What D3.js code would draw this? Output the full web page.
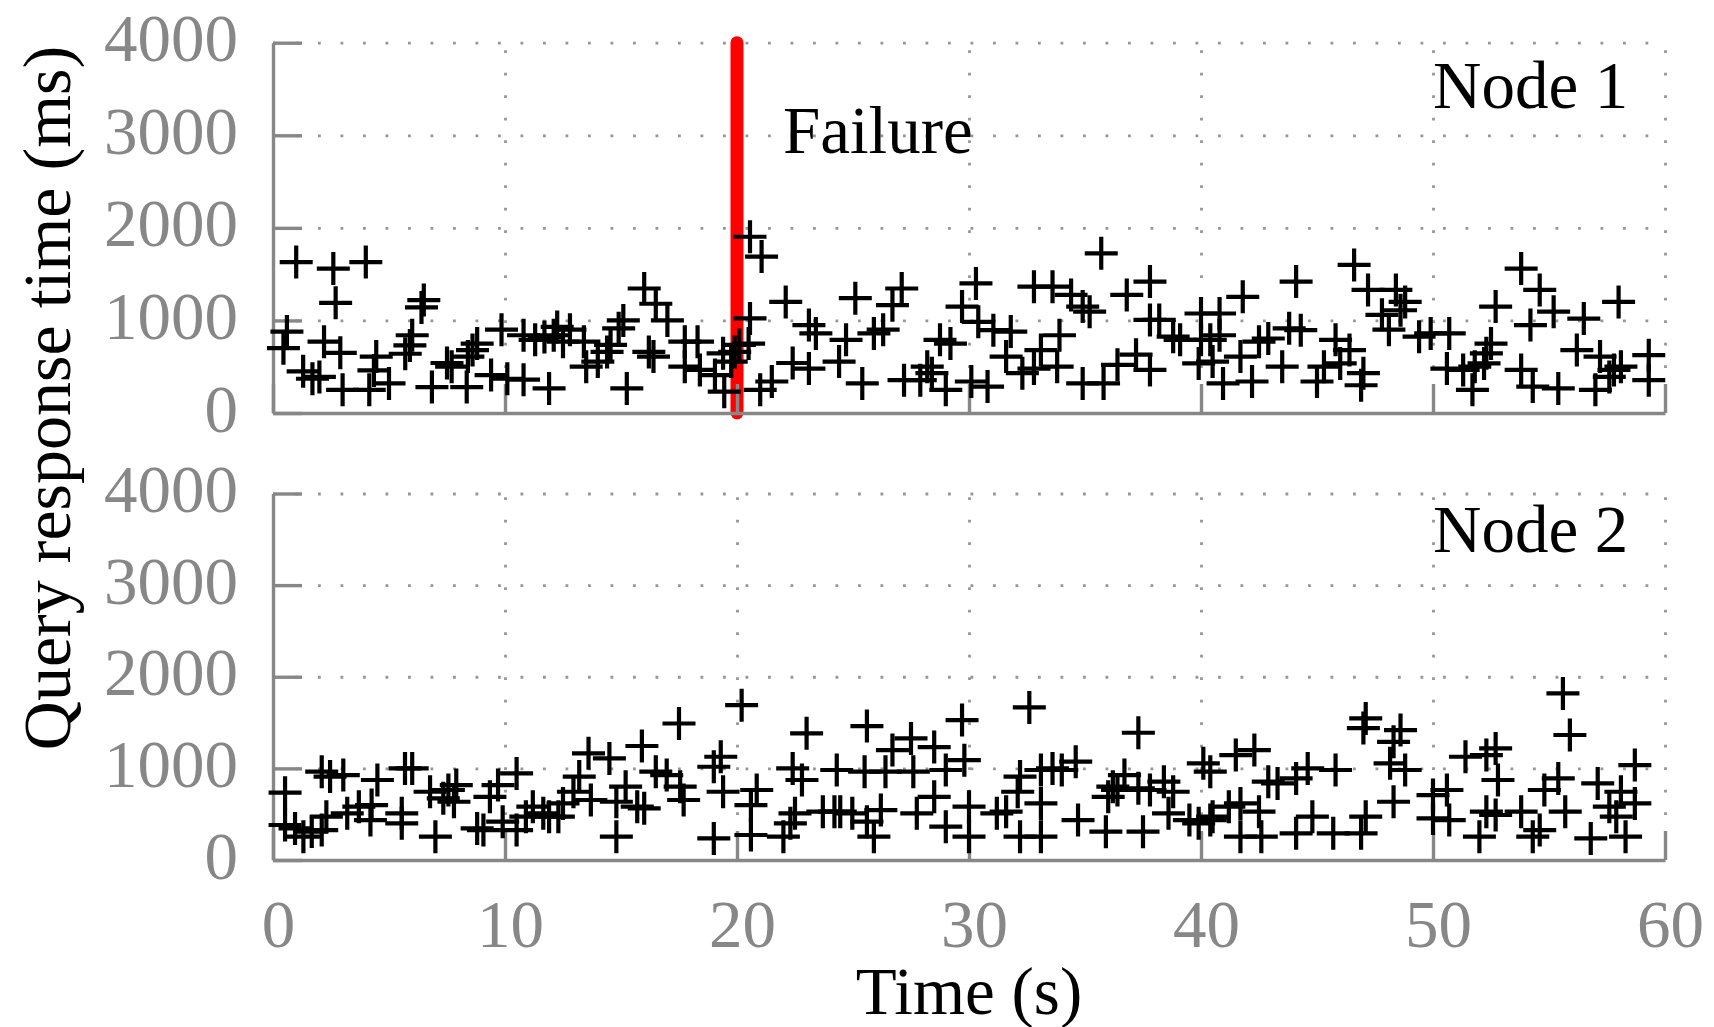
<!DOCTYPE html>
<html>
<head>
<meta charset="utf-8">
<script src="https://cdn.jsdelivr.net/npm/d3@7"></script>
<style>
  html, body { margin: 0; padding: 0; background: #fff; }
  svg { display: block; }
</style>
</head>
<body>
<svg id="chart" width="1714" height="1027"></svg>
<script>
// ---------------- data ----------------
const xTickValues = [0, 10, 20, 30, 40, 50, 60];
const yTickValues = [0, 1000, 2000, 3000, 4000];
const failureTime = 20;
const xTitle = "Time (s)";
const yTitle = "Query response time (ms)";
const panelLabels = ["Node 1", "Node 2"];
const failureLabel = "Failure";

// [time (s), response time (ms)]
const node1 = [
  [0.45,700],[0.6,880],[1.0,1630],[1.3,450],[1.7,370],[2.0,390],[2.2,770],[2.6,1560],[2.7,1190],[2.9,650],
  [3.0,250],[4.0,1630],[4.15,250],[4.35,460],[4.45,610],[5.0,320],[5.7,640],[5.9,730],[6.0,840],[6.4,1140],
  [6.5,1220],[6.85,280],[7.5,540],[7.7,500],[8.35,280],[8.4,610],[8.6,680],[8.8,750],[9.4,410],[9.85,900],
  [10.1,370],[10.8,360],[10.8,840],[11.3,790],[11.7,820],[11.9,265],[12.1,840],[12.25,930],[12.5,770],[12.8,900],
  [13.4,770],[13.5,500],[14.0,555],[14.4,660],[14.55,735],[14.9,915],[15.1,1000],[15.25,265],[16.0,1345],[16.2,660],
  [16.4,610],[16.5,1180],[17.0,1000],[17.75,770],[17.75,500],[18.3,770],[18.4,465],[19.05,410],[19.4,645],[19.45,230],
  [19.75,555],[19.9,660],[20.1,735],[20.5,750],[20.56,1904],[20.56,1022],[21.0,250],[21.06,1690],[21.5,340],[22.1,1200],
  [22.4,540],[23.1,950],[23.1,480],[23.4,860],[24.4,555],[24.7,790],[25.1,1240],[25.4,320],[25.9,860],[26.3,900],
  [26.7,1165],[27.1,1345],[27.2,355],[27.9,355],[28.2,500],[28.4,430],[28.75,790],[29.0,250],[29.2,750],[29.7,1150],
  [30.1,340],[30.3,1400],[30.4,985],[30.8,285],[31.05,895],[31.6,610],[31.8,880],[32.3,430],[32.8,1365],[32.8,480],
  [33.1,680],[33.6,1365],[33.8,500],[33.9,840],[34.4,1275],[34.9,1150],[34.9,320],[35.2,1095],[35.7,1725],[35.8,320],
  [36.4,520],[36.8,1275],[37.2,630],[37.8,1420],[37.8,465],[37.8,1005],[38.2,1005],[38.8,825],[39.1,790],[39.9,535],
  [40.0,1075],[40.0,790],[40.4,790],[40.5,555],[40.8,1075],[40.8,840],[40.95,320],[41.7,610],[41.8,1255],[42.2,340],
  [42.5,770],[42.9,805],[43.5,500],[43.8,915],[44.1,1420],[44.3,895],[45.0,340],[45.3,500],[45.8,790],[46.0,535],
  [46.4,680],[46.6,1600],[46.9,300],[47.0,430],[47.2,1330],[47.8,1060],[48.1,900],[48.4,1330],[48.6,1110],[48.8,1200],
  [49.4,825],[49.9,860],[50.6,480],[50.7,860],[51.3,465],[51.7,250],[51.8,500],[52.2,535],[52.3,645],[52.5,750],
  [52.7,1150],[53.8,1560],[53.8,465],[54.2,950],[54.3,285],[54.6,1330],[55.2,1095],[55.4,265],[56.2,680],[56.5,1020],
  [57.0,250],[57.2,610],[57.6,390],[57.8,465],[58.0,1200],[58.1,500],[59.3,625],[59.3,355]
];

const node2 = [
  [0.52,735],[0.52,382],[0.95,345],[1.31,255],[1.67,310],[2.1,327],[2.1,964],[2.3,473],[2.46,910],[3.03,927],
  [3.2,509],[3.7,582],[4.2,436],[4.25,600],[4.5,873],[5.55,400],[5.55,509],[5.69,1000],[6.0,1000],[6.77,745],
  [7.0,255],[7.34,673],[7.56,764],[7.8,636],[7.9,818],[8.8,345],[9.07,327],[9.35,690],[9.7,818],[9.9,418],
  [10.5,945],[10.5,327],[10.9,473],[11.2,582],[11.65,509],[11.9,473],[12.3,473],[12.5,618],[12.95,745],[13.2,910],
  [13.6,1164],[13.7,655],[14.5,1109],[14.8,255],[14.8,636],[15.2,800],[15.7,582],[15.9,1244],[16.0,564],[16.5,964],
  [16.97,927],[17.5,1490],[17.55,800],[17.7,655],[19.0,1018],[19.0,236],[19.3,1127],[19.4,745],[20.2,1690],[20.6,600],
  [20.6,273],[20.85,764],[22.0,255],[22.3,400],[22.4,1000],[22.5,509],[22.8,873],[23.0,1382],[23.7,527],[24.2,527],
  [24.3,982],[24.45,527],[24.97,509],[25.5,964],[25.6,1462],[25.6,418],[25.9,255],[26.2,545],[26.4,964],[26.7,1200],
  [27.5,1327],[27.6,964],[27.75,509],[28.5,1233],[28.5,690],[29.0,364],[29.0,982],[29.7,1527],[29.8,1090],[30.0,255],
  [30.0,582],[31.2,509],[31.6,527],[32.1,745],[32.2,255],[32.2,910],[32.6,1665],[33.1,618],[33.1,255],[33.1,982],
  [33.6,1000],[34.0,982],[34.6,1073],[34.7,436],[35.9,309],[36.0,690],[36.2,800],[36.4,764],[36.7,927],[37.3,1389],
  [37.3,782],[37.5,309],[37.8,764],[38.4,855],[38.6,509],[38.8,745],[39.5,436],[39.9,400],[40.1,1055],[40.4,964],
  [40.4,436],[40.5,473],[41.2,582],[41.5,1145],[41.7,255],[41.7,618],[42.3,1200],[42.5,527],[42.6,255],[42.9,855],
  [43.3,836],[44.1,890],[44.1,291],[44.6,1000],[44.8,473],[45.7,291],[45.8,982],[46.9,291],[47.0,1440],[47.1,1545],
  [47.1,473],[48.15,1055],[48.3,636],[48.3,1290],[48.6,1418],[48.8,982],[50.0,709],[50.0,454],[50.6,764],[50.7,436],
  [51.4,1127],[52.0,255],[52.3,1145],[52.3,527],[52.7,1218],[52.7,491],[52.8,873],[53.8,527],[54.3,255],[54.6,327],
  [54.8,764],[55.4,890],[55.6,1818],[55.7,527],[55.9,1364],[56.8,236],[57.1,836],[57.6,582],[57.9,473],[58.1,745],
  [58.3,255],[58.7,618],[58.7,1036]
];

// ---------------- drawing ----------------
const svg = d3.select("#chart");
const FONT = "'Liberation Serif', 'Times New Roman', Times, serif";
const GRAY = "#878787";
const FS = 67;

const x = d3.scaleLinear().domain([0, 60]).range([273, 1665]);
const panels = [
  { data: node1, label: panelLabels[0], y: d3.scaleLinear().domain([0, 4000]).range([413, 42.7]), labelY: 108, failure: true, xLabels: false },
  { data: node2, label: panelLabels[1], y: d3.scaleLinear().domain([0, 4000]).range([860, 493.5]), labelY: 552, failure: false, xLabels: true }
];

const plus = "M-16.5,0H16.5M0,-16.5V16.5";

panels.forEach(p => {
  const g = svg.append("g");
  const y = p.y;
  const y0 = y(0), y4 = y(4000);

  // dotted grid (horizontal)
  const gy = g.append("g").attr("transform", `translate(${x(0)},0)`)
    .call(d3.axisLeft(y).tickValues(yTickValues.slice(1)).tickSize(-(x(60) - x(0))).tickFormat(""));
  gy.select(".domain").remove();
  gy.selectAll(".tick line").attr("stroke", "#969696").attr("stroke-width", 2.8)
    .attr("stroke-dasharray", "2.8,19.7");

  // dotted grid (vertical)
  const gx = g.append("g").attr("transform", `translate(0,${y0})`)
    .call(d3.axisBottom(x).tickValues(xTickValues.slice(1)).tickSize(-(y0 - y4)).tickFormat(""));
  gx.select(".domain").remove();
  gx.selectAll(".tick line").attr("stroke", "#969696").attr("stroke-width", 2.8)
    .attr("stroke-dasharray", "2.8,19.7");

  // failure line
  if (p.failure) {
    g.append("line")
      .attr("x1", x(failureTime)).attr("x2", x(failureTime))
      .attr("y1", y(0)).attr("y2", y(4000))
      .attr("stroke", "#ff0000").attr("stroke-width", 13).attr("stroke-linecap", "round");
    g.append("text").attr("x", 783).attr("y", 153)
      .attr("font-family", FONT).attr("font-size", FS).attr("fill", "#000")
      .text(failureLabel);
  }

  // left axis
  const ax = g.append("g").attr("transform", `translate(${x(0)},0)`)
    .call(d3.axisLeft(y).tickValues(yTickValues).tickSizeInner(-29).tickSizeOuter(0).tickPadding(35)
      .tickFormat(d3.format("d")));
  ax.select(".domain").attr("stroke", GRAY).attr("stroke-width", 3.4);
  ax.selectAll(".tick line").attr("stroke", GRAY).attr("stroke-width", 3.4);
  ax.selectAll(".tick text").attr("font-family", FONT).attr("font-size", FS)
    .attr("fill", GRAY).attr("dy", "0.27em");

  // bottom axis
  const bx = g.append("g").attr("transform", `translate(0,${y0})`)
    .call(d3.axisBottom(x).tickValues(xTickValues).tickSizeInner(-29).tickSizeOuter(0).tickPadding(39)
      .tickFormat(p.xLabels ? d3.format("d") : ""));
  bx.select(".domain").attr("stroke", GRAY).attr("stroke-width", 3.4);
  bx.selectAll(".tick line").attr("stroke", GRAY).attr("stroke-width", 3.4);
  bx.selectAll(".tick text").attr("font-family", FONT).attr("font-size", FS)
    .attr("fill", GRAY).attr("dx", 5);

  // points
  g.append("g").selectAll("path").data(p.data).join("path")
    .attr("d", plus)
    .attr("transform", d => `translate(${x(d[0])},${y(d[1])})`)
    .attr("fill", "none").attr("stroke", "#000").attr("stroke-width", 4.2);

  // panel label
  g.append("text").attr("x", 1433).attr("y", p.labelY)
    .attr("font-family", FONT).attr("font-size", FS).attr("fill", "#000")
    .text(p.label);
});

// axis titles
svg.append("text")
  .attr("transform", `translate(70,398) rotate(-90)`)
  .attr("text-anchor", "middle")
  .attr("font-family", FONT).attr("font-size", 68).attr("fill", "#000")
  .text(yTitle);

svg.append("text")
  .attr("x", (x(0) + x(60)) / 2).attr("y", 1014)
  .attr("text-anchor", "middle")
  .attr("font-family", FONT).attr("font-size", FS).attr("fill", "#000")
  .text(xTitle);
</script>
</body>
</html>
